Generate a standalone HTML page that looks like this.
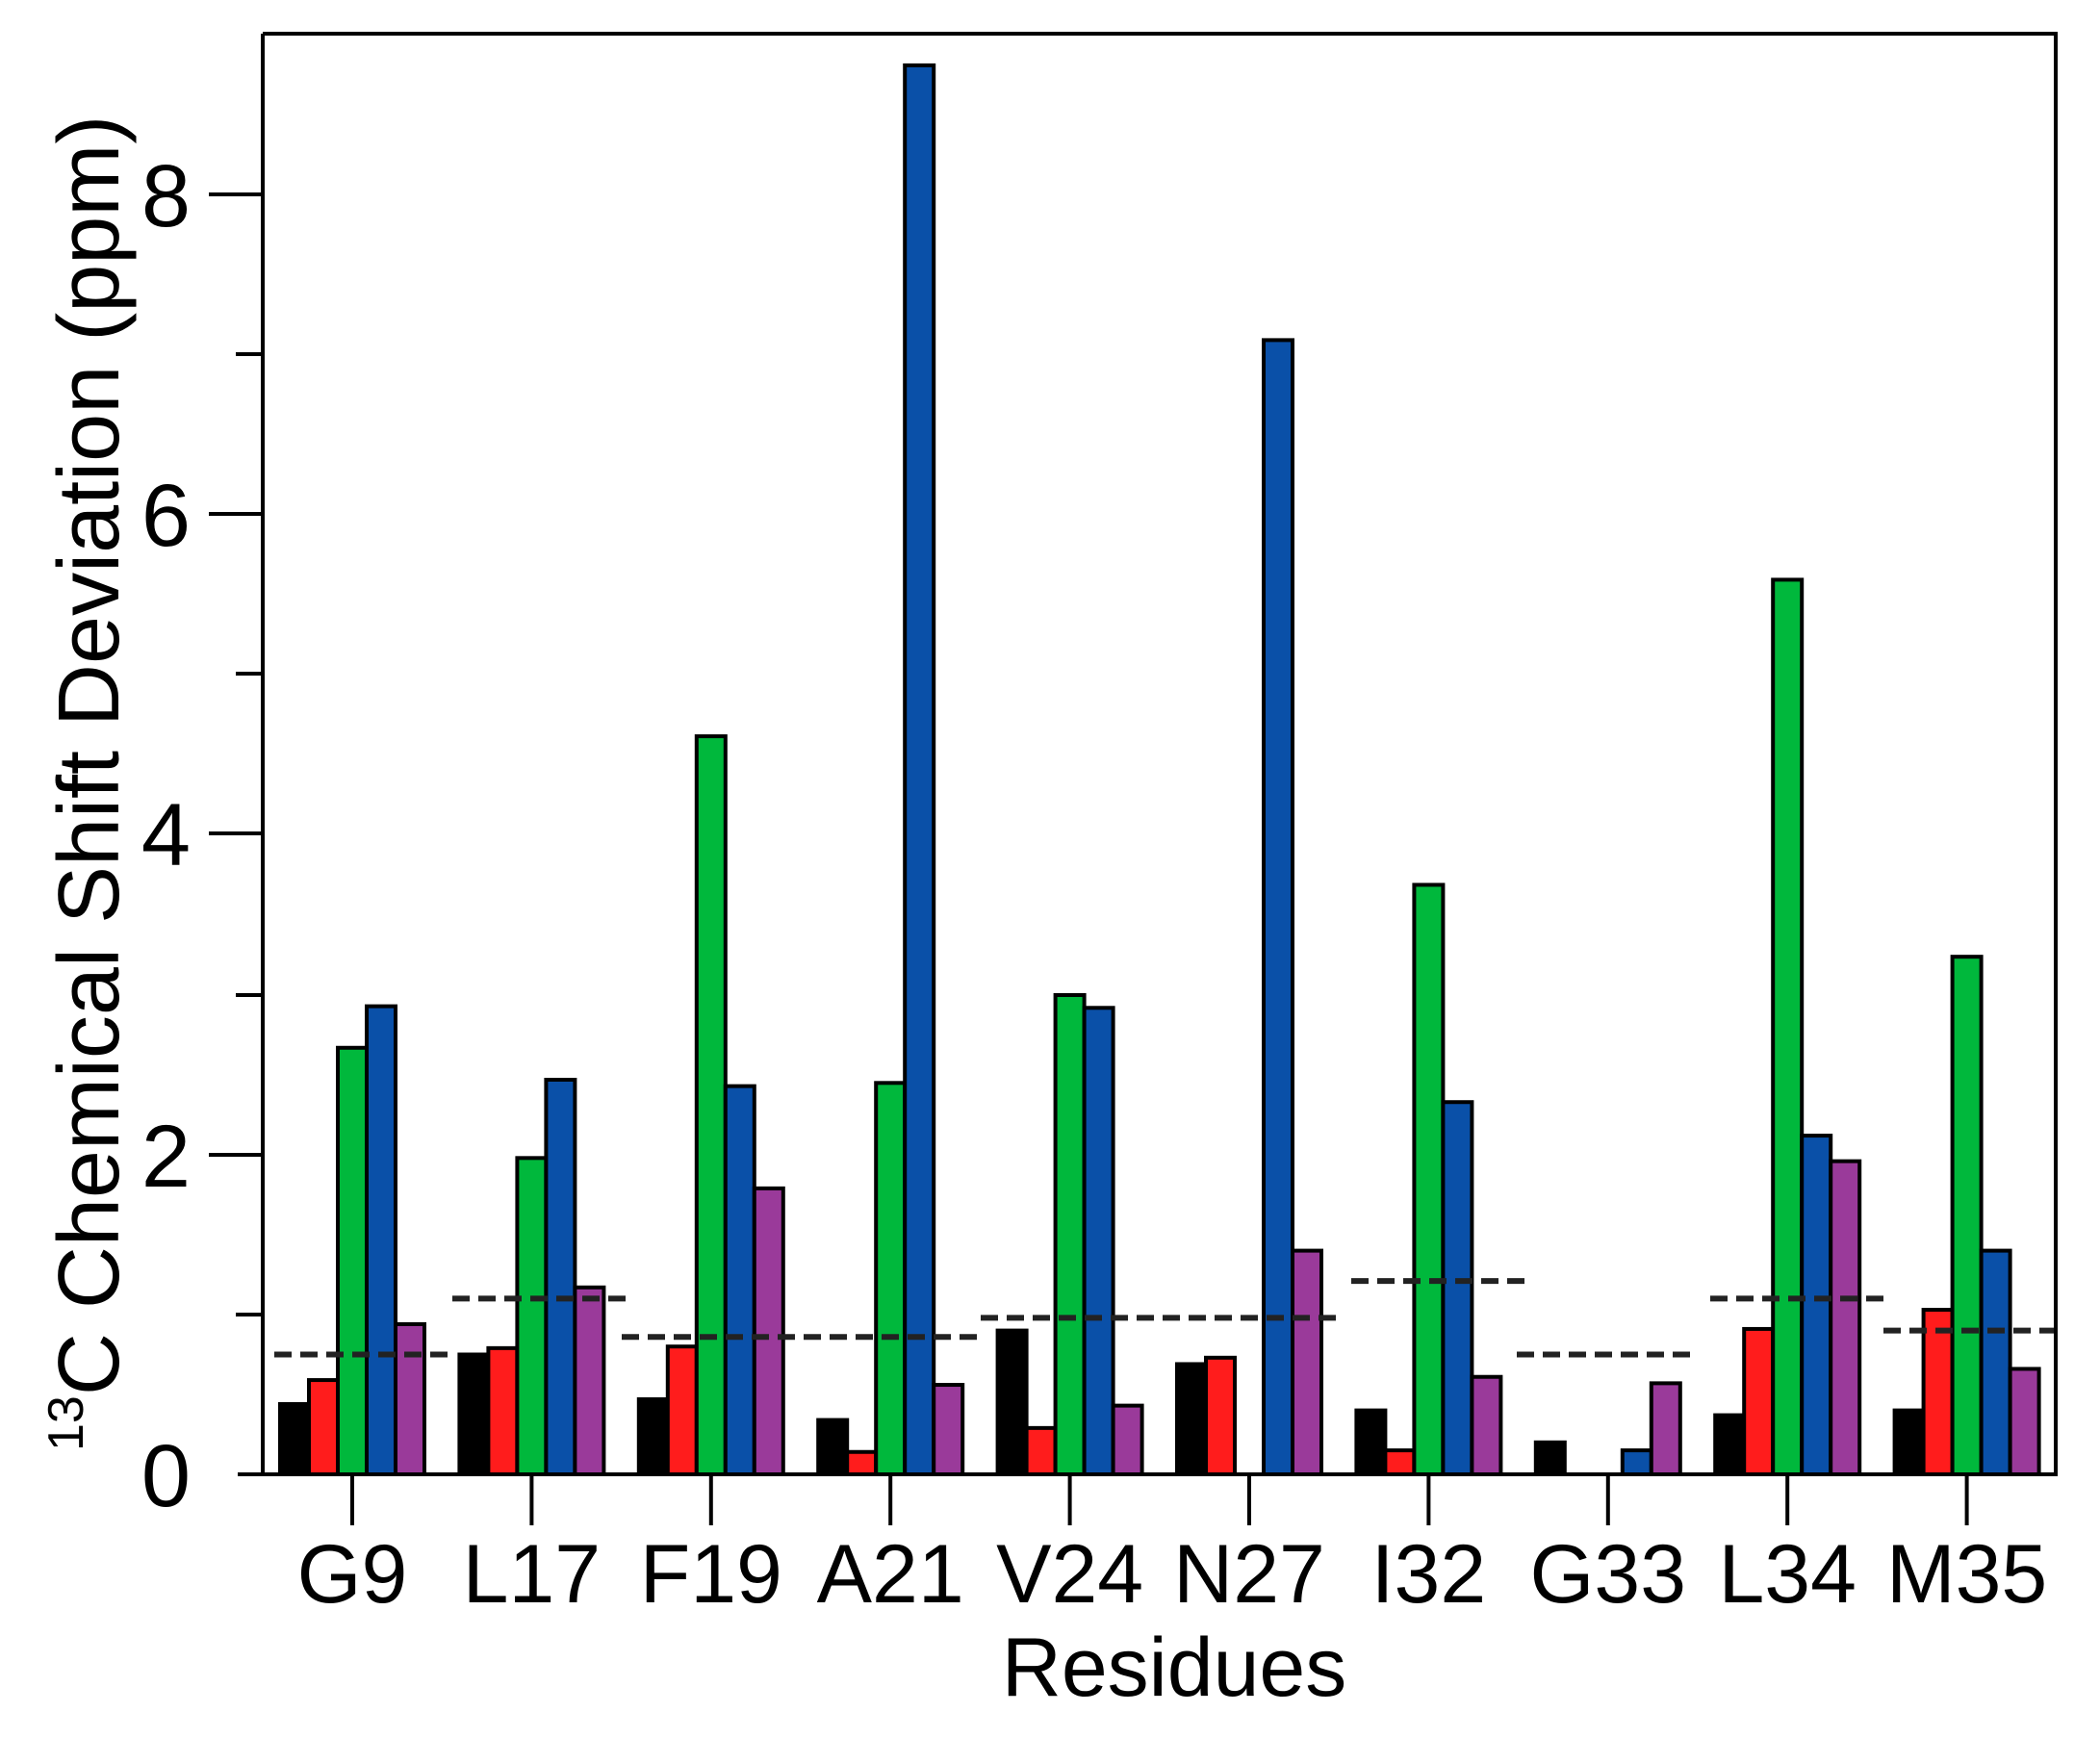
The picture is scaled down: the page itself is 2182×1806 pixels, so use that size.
<!DOCTYPE html>
<html><head><meta charset="utf-8"><style>body{margin:0;background:#fff}svg{display:block}</style></head><body>
<svg width="2182" height="1806" viewBox="0 0 2182 1806" xmlns="http://www.w3.org/2000/svg" font-family="Liberation Sans, Arial, sans-serif">
<rect width="2182" height="1806" fill="#fff"/>
<g id="bars" stroke="#000" stroke-width="4"></g>
<g id="dash" stroke="#222" stroke-width="6" stroke-dasharray="18,9"></g>
<g stroke="#000" stroke-width="4" fill="none">
<path d="M273 35 V1532 H2136 V35 H273"/>
<path d="M247 1532H273 M217 1200H273 M217 866H273 M217 534H273 M217 202H273"/>
<path d="M245 1366H273 M245 1034H273 M245 700H273 M245 368H273"/>
</g>
<g id="xt" stroke="#000" stroke-width="4"></g>
<g font-size="92" text-anchor="end" fill="#000">
<text x="198" y="1565">0</text><text x="198" y="1233">2</text><text x="198" y="899">4</text><text x="198" y="567">6</text><text x="198" y="235">8</text>
</g>
<g id="xl" font-size="86" text-anchor="middle" fill="#000"></g>
<text x="1220" y="1762" font-size="86" text-anchor="middle">Residues</text>
<text transform="translate(123,1508) rotate(-90)" font-size="90"><tspan font-size="52" dy="-37">13</tspan><tspan dy="37">C Chemical Shift Deviation (ppm)</tspan></text>
<script>
var d=[[0.44,0.59,2.67,2.93,0.94],[0.75,0.79,1.98,2.47,1.17],[0.47,0.80,4.62,2.43,1.79],[0.34,0.14,2.45,8.82,0.56],[0.90,0.29,3.00,2.92,0.43],[0.69,0.73,0,7.10,1.40],[0.40,0.15,3.69,2.33,0.61],[0.20,0,0,0.15,0.57],[0.37,0.91,5.60,2.12,1.96],[0.40,1.03,3.24,1.40,0.66]];
var col=["#000","#ff1c1c","#00b83c","#0a50a8","#9a3a9a"];
var names=["G9","L17","F19","A21","V24","N27","I32","G33","L34","M35"];
var ns="http://www.w3.org/2000/svg",B=1532,U=166;
var g=document.getElementById("bars"),xt=document.getElementById("xt"),xl=document.getElementById("xl");
function el(p,t,a){var e=document.createElementNS(ns,t);for(var k in a)e.setAttribute(k,a[k]);p.appendChild(e);return e;}
for(var i=0;i<10;i++){var c=366+186.4*i;
for(var k=0;k<5;k++){var v=d[i][k];if(v<=0)continue;el(g,"rect",{x:c-75+30*k,y:B-v*U,width:30,height:v*U,fill:col[k]});}
el(xt,"line",{x1:c,y1:B,x2:c,y2:1585});
var t=el(xl,"text",{x:c,y:1665});t.textContent=names[i];}
var ds=[[285,466,0.75],[470,653,1.1],[646,1022,0.86],[1019,1397,0.98],[1404,1589,1.21],[1576,1763,0.75],[1777,1960,1.1],[1957,2134,0.9]];
var dg=document.getElementById("dash");
ds.forEach(function(s){el(dg,"line",{x1:s[0],x2:s[1],y1:B-s[2]*U,y2:B-s[2]*U});});
</script>
</svg>
</body></html>
